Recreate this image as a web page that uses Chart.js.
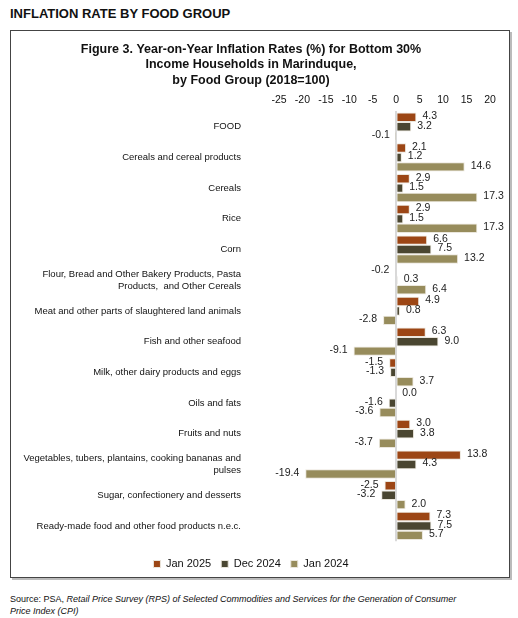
<!DOCTYPE html>
<html>
<head>
<meta charset="utf-8">
<script src="https://cdn.jsdelivr.net/npm/chart.js@4"></script>
<style>
  body { margin: 0; width: 518px; height: 618px; background: #fff; font-family: "Liberation Sans", Arial, sans-serif; position: relative; }
  #head { position: absolute; left: 10px; top: 6px; font-size: 13px; font-weight: bold; color: #111; }
  #box { position: absolute; left: 10px; top: 30px; width: 500px; height: 548px; box-sizing: border-box;
         border: 1.5px solid #444; box-shadow: 2px 2px 0 #bbb; }
  #wrap { position: absolute; left: 11.5px; top: 31.5px; width: 497px; height: 553px; }
  #src { position: absolute; left: 10px; top: 593px; font-size: 9px; line-height: 12px; color: #111; }
</style>
</head>
<body>
<div id="head">INFLATION RATE BY FOOD GROUP</div>
<div id="box"></div>
<div id="wrap"><canvas id="myChart"></canvas></div>
<div id="src">Source: PSA, <i>Retail Price Survey (RPS) of Selected Commodities and Services for the Generation of Consumer<br>Price Index (CPI)</i></div>
<script>
const categories = [
  "FOOD",
  "Cereals and cereal products",
  "Cereals",
  "Rice",
  "Corn",
  ["Flour, Bread and Other Bakery Products, Pasta", "Products,  and Other Cereals"],
  "Meat and other parts of slaughtered land animals",
  "Fish and other seafood",
  "Milk, other dairy products and eggs",
  "Oils and fats",
  "Fruits and nuts",
  ["Vegetables, tubers, plantains, cooking bananas and", "pulses"],
  "Sugar, confectionery and desserts",
  "Ready-made food and other food products n.e.c.",
];
const jan2025 = [4.3, 2.1, 2.9, 2.9, 6.6, -0.2, 4.9, 6.3, -1.5, 0.0, 3.0, 13.8, -2.5, 7.3];
const dec2024 = [3.2, 1.2, 1.5, 1.5, 7.5, 0.3, 0.8, 9.0, -1.3, -1.6, 3.8, 4.3, -3.2, 7.5];
const jan2024 = [-0.1, 14.6, 17.3, 17.3, 13.2, 6.4, -2.8, -9.1, 3.7, -3.6, -3.7, -19.4, 2.0, 5.7];
const xTicks = [-25, -20, -15, -10, -5, 0, 5, 10, 15, 20];

const FONT = "'Liberation Sans', Arial, sans-serif";

// value labels next to each bar
const barLabels = {
  id: "barLabels",
  afterDatasetsDraw(chart) {
    const c = chart.ctx;
    c.save();
    c.font = "10.5px " + FONT;
    c.fillStyle = "#222";
    c.textBaseline = "middle";
    chart.data.datasets.forEach((ds, i) => {
      chart.getDatasetMeta(i).data.forEach((bar, j) => {
        const v = ds.data[j];
        if (v < 0) {
          c.textAlign = "right";
          c.fillText(v.toFixed(1), bar.x - 6, bar.y - 1);
        } else {
          c.textAlign = "left";
          c.fillText(v.toFixed(1), bar.x + 6, bar.y - 1);
        }
      });
    });
    c.restore();
  },
};

const ctx = document.getElementById("myChart");

new Chart(ctx, {
  type: "bar",
  data: {
    labels: categories,
    datasets: [
      { label: "Jan 2025", data: jan2025, backgroundColor: "#9c4615" },
      { label: "Dec 2024", data: dec2024, backgroundColor: "#4a4631" },
      { label: "Jan 2024", data: jan2024, backgroundColor: "#978c5c" },
    ],
  },
  options: {
    indexAxis: "y",
    responsive: true,
    maintainAspectRatio: false,
    animation: false,
    datasets: {
      bar: {
        categoryPercentage: 0.92,
        barPercentage: 1,
        borderColor: "#ebe7dd",
        borderWidth: 1,
      },
    },
    layout: {
      padding: { left: 0, right: 19, top: 10, bottom: 0 },
    },
    plugins: {
      title: {
        display: true,
        text: [
          "Figure 3. Year-on-Year Inflation Rates (%) for Bottom 30%",
          "Income Households in Marinduque,",
          "by Food Group (2018=100)",
        ],
        color: "#111",
        font: { family: FONT, size: 12.5, weight: "bold", lineHeight: 1.22 },
        padding: { top: 0, bottom: 1 },
      },
      legend: {
        position: "bottom",
        // empty title only adds space above the legend items
        title: { display: true, text: " ", font: { size: 1 }, padding: { top: 6, bottom: 0 } },
        labels: {
          boxWidth: 7,
          boxHeight: 7,
          padding: 10,
          color: "#111",
          font: { family: FONT, size: 11 },
        },
      },
      tooltip: { enabled: false },
    },
    scales: {
      x: {
        position: "top",
        min: -25,
        max: 20,
        afterBuildTicks: (scale) => {
          scale.ticks = xTicks.map((v) => ({ value: v }));
        },
        ticks: {
          color: "#111",
          padding: 5,
          font: { family: FONT, size: 10.5 },
        },
        grid: {
          drawTicks: false,
          color: (c) => (c.tick && c.tick.value === 0 ? "#d9d9d9" : "transparent"),
          lineWidth: 2,
        },
        border: { display: false },
      },
      y: {
        afterFit: (scale) => {
          scale.width = 267;
        },
        ticks: {
          color: "#111",
          padding: 38,
          autoSkip: false,
          font: { family: FONT, size: 9.5 },
        },
        grid: { display: false, drawTicks: false },
        border: { display: false },
      },
    },
  },
  plugins: [barLabels],
});
</script>
</body>
</html>
